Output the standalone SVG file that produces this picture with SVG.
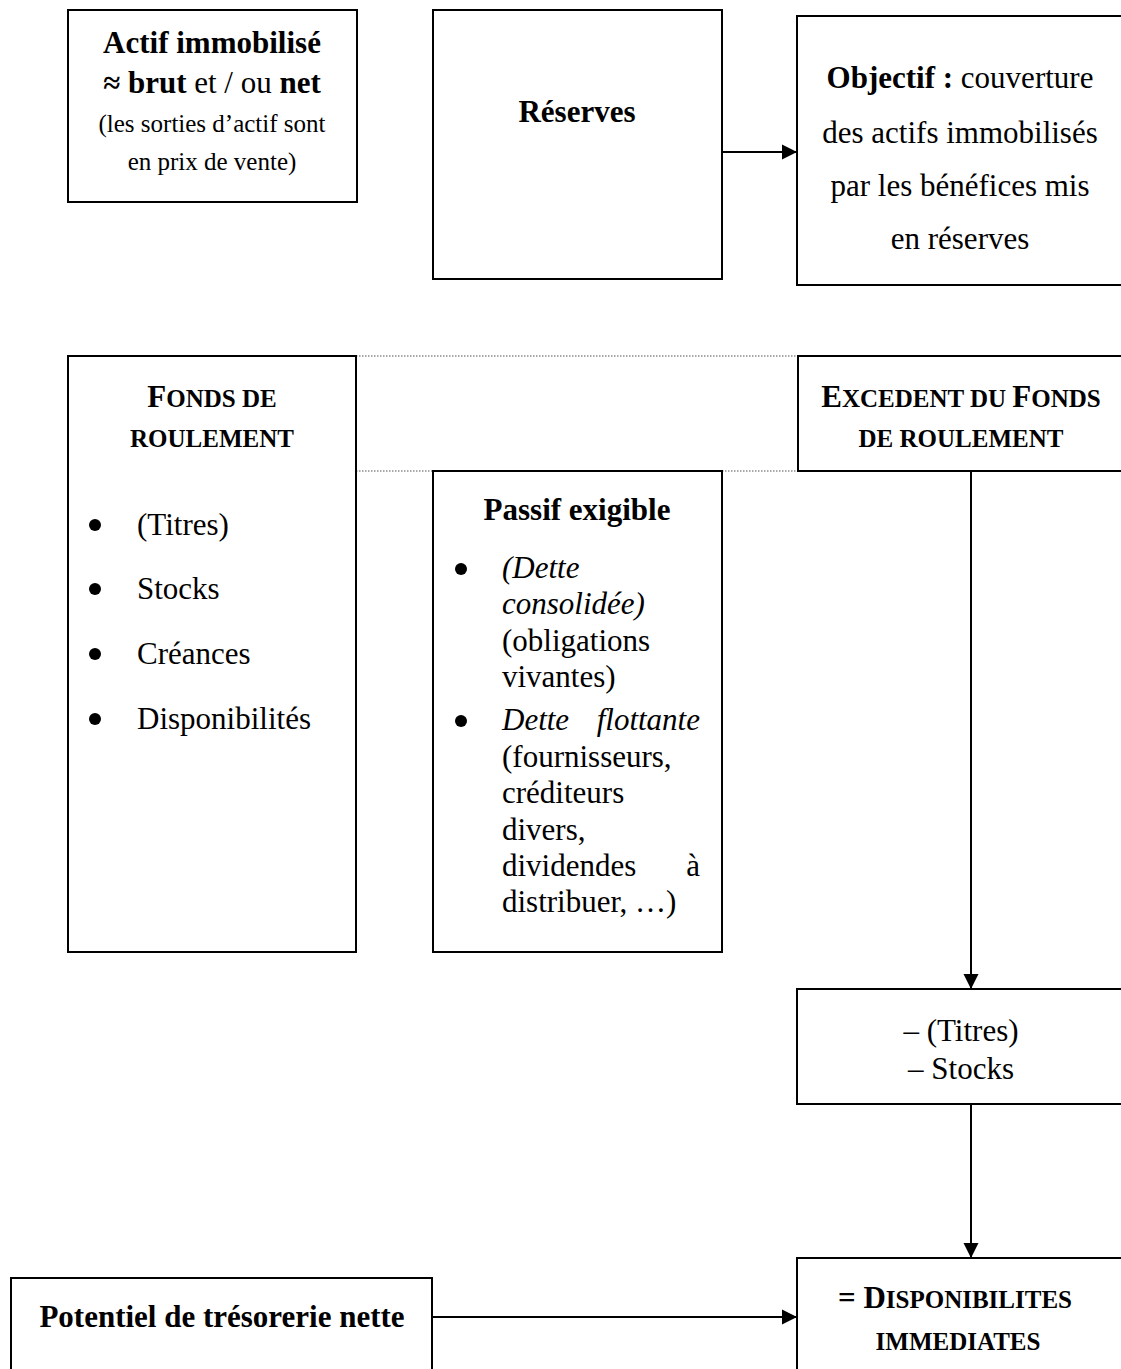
<svg xmlns="http://www.w3.org/2000/svg" width="1121" height="1369" viewBox="0 0 1121 1369">
<defs>
<style>
text{font-family:"Liberation Serif","Times New Roman",serif;fill:#000;}
.box{fill:#fff;stroke:#000;stroke-width:2;}
.b{font-weight:bold;}
.t{font-size:31px;}
.s{font-size:25px;}
.m{text-anchor:middle;}
.i{font-style:italic;}
.conn{stroke:#000;stroke-width:2;fill:none;}
.dot{stroke:#555;stroke-width:1.2;stroke-dasharray:1.5 1.5;fill:none;}
</style>
<marker id="arr" markerUnits="userSpaceOnUse" markerWidth="16" markerHeight="16" refX="15" refY="8" orient="auto">
<path d="M0,0.5 L15,8 L0,15.5 z" fill="#000"/>
</marker>
</defs>
<rect width="1121" height="1369" fill="#fff"/>

<g id="connectors">
<line class="dot" x1="356" y1="356" x2="797" y2="356"/>
<line class="dot" x1="356" y1="471" x2="797" y2="471"/>
<line class="conn" x1="722" y1="152" x2="797" y2="152" marker-end="url(#arr)"/>
<line class="conn" x1="971" y1="471" x2="971" y2="989" marker-end="url(#arr)"/>
<line class="conn" x1="971" y1="1104" x2="971" y2="1258" marker-end="url(#arr)"/>
<line class="conn" x1="432" y1="1317" x2="797" y2="1317" marker-end="url(#arr)"/>
</g>

<g id="actif">
<rect class="box" x="68" y="10" width="289" height="192"/>
<text class="t b m" x="212" y="53">Actif immobilisé</text>
<text class="t m" x="212" y="93"><tspan class="b">≈ brut</tspan> et / ou <tspan class="b">net</tspan></text>
<text class="s m" x="212" y="132">(les sorties d’actif sont</text>
<text class="s m" x="212" y="170">en prix de vente)</text>
</g>

<g id="reserves">
<rect class="box" x="433" y="10" width="289" height="269"/>
<text class="t b m" x="577" y="122">Réserves</text>
</g>

<g id="objectif">
<rect class="box" x="797" y="16" width="340" height="269"/>
<text class="t m" x="960" y="88"><tspan class="b">Objectif :</tspan> couverture</text>
<text class="t m" x="960" y="143">des actifs immobilisés</text>
<text class="t m" x="960" y="196">par les bénéfices mis</text>
<text class="t m" x="960" y="249">en réserves</text>
</g>

<g id="fonds">
<rect class="box" x="68" y="356" width="288" height="596"/>
<text class="b m" x="212" y="407" font-size="31">F<tspan class="s">ONDS DE</tspan></text>
<text class="b m s" x="212" y="447">ROULEMENT</text>
<circle cx="95" cy="525" r="6"/>
<text class="t" x="137" y="535">(Titres)</text>
<circle cx="95" cy="589" r="6"/>
<text class="t" x="137" y="599">Stocks</text>
<circle cx="95" cy="654" r="6"/>
<text class="t" x="137" y="664">Créances</text>
<circle cx="95" cy="719" r="6"/>
<text class="t" x="137" y="729">Disponibilités</text>
</g>

<g id="passif">
<rect class="box" x="433" y="471" width="289" height="481"/>
<text class="t b m" x="577" y="520">Passif exigible</text>
<circle cx="461" cy="569" r="6"/>
<text class="t i" x="502" y="578">(Dette</text>
<text class="t i" x="502" y="614">consolidée)</text>
<text class="t" x="502" y="651">(obligations</text>
<text class="t" x="502" y="687">vivantes)</text>
<circle cx="461" cy="721" r="6"/>
<text class="t i" x="502" y="730">Dette</text>
<text class="t i" x="700" y="730" text-anchor="end">flottante</text>
<text class="t" x="502" y="767">(fournisseurs,</text>
<text class="t" x="502" y="803">créditeurs</text>
<text class="t" x="502" y="840">divers,</text>
<text class="t" x="502" y="876">dividendes</text>
<text class="t" x="700" y="876" text-anchor="end">à</text>
<text class="t" x="502" y="912">distribuer, …)</text>
</g>

<g id="excedent">
<rect class="box" x="798" y="356" width="340" height="115"/>
<text class="b m" x="961" y="407" font-size="31">E<tspan class="s">XCEDENT DU </tspan>F<tspan class="s">ONDS</tspan></text>
<text class="b m s" x="961" y="447">DE ROULEMENT</text>
</g>

<g id="titres">
<rect class="box" x="797" y="989" width="340" height="115"/>
<text class="t m" x="961" y="1041">– (Titres)</text>
<text class="t m" x="961" y="1079">– Stocks</text>
</g>

<g id="potentiel">
<rect class="box" x="11" y="1278" width="421" height="110"/>
<text class="t b m" x="222" y="1327">Potentiel de trésorerie nette</text>
</g>

<g id="disponibilites">
<rect class="box" x="797" y="1258" width="340" height="130"/>
<text class="b m" x="955" y="1308" font-size="31">= D<tspan class="s">ISPONIBILITES</tspan></text>
<text class="b m s" x="958" y="1350">IMMEDIATES</text>
</g>
</svg>
